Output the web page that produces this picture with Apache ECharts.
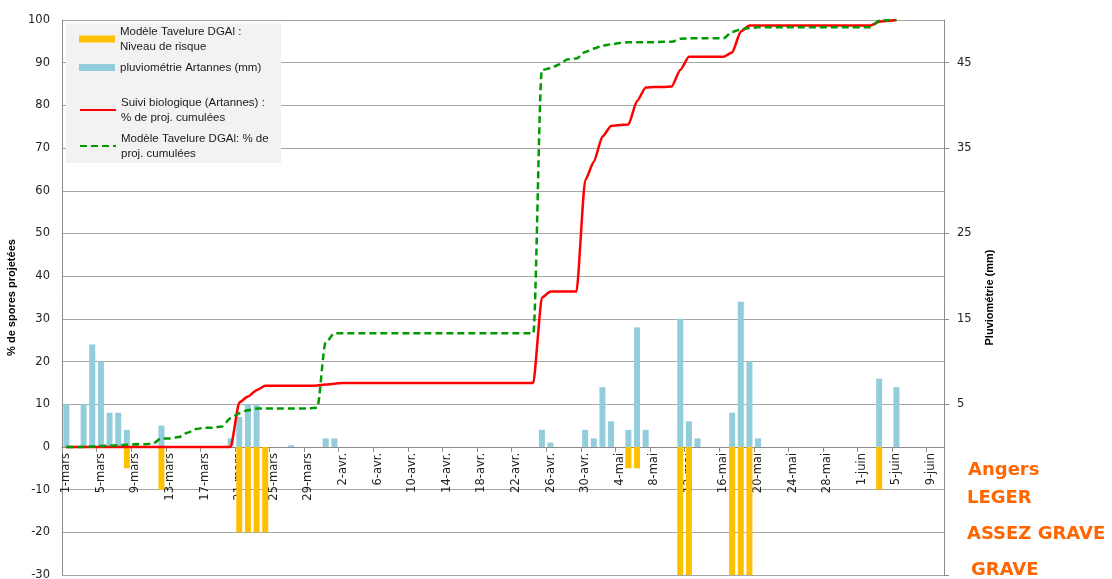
<!DOCTYPE html>
<html><head><meta charset="utf-8">
<script src="https://cdn.jsdelivr.net/npm/echarts@6/dist/echarts.min.js"></script>
<style>html,body{margin:0;padding:0;background:#fff}#c{width:1112px;height:579px}</style>
</head><body><div id="c"></div>
<script>
// ---- categories (1-mars .. 10-juin) ----
const monthNames = ['mars', 'avr.', 'mai', 'juin'];
const monthDays = [31, 30, 31, 10];
const categories = [];
monthNames.forEach((m, i) => { for (let d = 1; d <= monthDays[i]; d++) categories.push(d + '-' + m); });

// ---- series names ----
const riskName = 'Modèle Tavelure DGAl :\nNiveau de risque';
const rainName = 'pluviométrie Artannes (mm)';
const redName = 'Suivi biologique (Artannes) :\n% de proj. cumulées';
const greenName = 'Modèle Tavelure DGAl: % de\nproj. cumulées';

// ---- rainfall (mm), right axis ----
const rain = [
  5, 0, 5, 12, 10, 4, 4, 2, 0.5, 0,
  0, 2.5, 0, 0, 0, 0, 0, 0, 0, 1,
  3.5, 5, 5, 0, 0, 0, 0.2, 0, 0, 0,
  1, 1, 0, 0, 0, 0, 0, 0, 0, 0,
  0, 0, 0, 0, 0, 0, 0, 0, 0, 0,
  0, 0, 0, 0, 0, 2, 0.5, 0, 0, 0,
  2, 1, 7, 3, 0, 2, 14, 2, 0, 0,
  0, 15, 3, 1, 0, 0, 0, 4, 17, 10,
  1, 0, 0, 0, 0, 0, 0, 0, 0, 0,
  0, 0, 0, 0, 8, 0, 7, 0, 0, 0,
  0, 0
];

// ---- risk level (left axis, negative) ----
const risk = [
  0, 0, 0, 0, 0, 0, 0, -5, 0, 0,
  0, -10, 0, 0, 0, 0, 0, 0, 0, 0,
  -20, -20, -20, -20, 0, 0, 0, 0, 0, 0,
  0, 0, 0, 0, 0, 0, 0, 0, 0, 0,
  0, 0, 0, 0, 0, 0, 0, 0, 0, 0,
  0, 0, 0, 0, 0, 0, 0, 0, 0, 0,
  0, 0, 0, 0, 0, -5, -5, 0, 0, 0,
  0, -30, -30, 0, 0, 0, 0, -30, -30, -30,
  0, 0, 0, 0, 0, 0, 0, 0, 0, 0,
  0, 0, 0, 0, -10, 0, 0, 0, 0, 0,
  0, 0
];

// ---- % cumulative projections, biological follow-up ----
const red = [
  0, 0, 0, 0, 0, 0, 0, 0, 0, 0,
  0, 0, 0, 0, 0, 0, 0, 0, 0, 0,
  10.4, 11.8, 13.3, 14.3, 14.3, 14.3, 14.3, 14.3, 14.3, 14.4,
  14.6, 14.8, 15, 15, 15, 15, 15, 15, 15, 15,
  15, 15, 15, 15, 15, 15, 15, 15, 15, 15,
  15, 15, 15, 15, 15, 35, 36.4, 36.4, 36.4, 36.4,
  62.4, 66.8, 72.7, 75.2, 75.4, 75.5, 81, 84.2, 84.3, 84.3,
  84.4, 88.3, 91.4, 91.4, 91.4, 91.4, 91.4, 92.4, 97.3, 98.7,
  98.7, 98.7, 98.7, 98.7, 98.7, 98.7, 98.7, 98.7, 98.7, 98.7,
  98.7, 98.7, 98.7, 98.7, 99.6, 99.8, 100, null, null, null,
  null, null
];

// ---- % cumulative projections, DGAl model ----
const green = [
  0, 0, 0, 0.1, 0.2, 0.3, 0.4, 0.5, 0.6, 0.6,
  0.8, 2, 2, 2.3, 3.3, 4.2, 4.5, 4.5, 4.8, 6.7,
  7.9, 8.6, 9, 9, 9, 9, 9, 9, 9, 9.2,
  24.5, 26.6, 26.6, 26.6, 26.6, 26.6, 26.6, 26.6, 26.6, 26.6,
  26.6, 26.6, 26.6, 26.6, 26.6, 26.6, 26.6, 26.6, 26.6, 26.6,
  26.6, 26.6, 26.6, 26.6, 26.6, 88.3, 88.7, 89.6, 90.8, 91,
  92.5, 93.3, 94, 94.3, 94.6, 94.8, 94.8, 94.8, 94.8, 94.9,
  94.9, 95.6, 95.7, 95.7, 95.7, 95.7, 95.7, 97.2, 97.8, 98.1,
  98.3, 98.3, 98.3, 98.3, 98.3, 98.3, 98.3, 98.3, 98.3, 98.3,
  98.3, 98.3, 98.3, 98.3, 99.8, 100, 100, null, null, null,
  null, null
];

// ---- right axis tick labels ----
const rightLabels = [5, 15, 25, 35, 45];
const rightTicks = [-15, 5, 15, 25, 35, 45];

// ---- side annotation texts ----
const sideTexts = ['Angers', 'LEGER', 'ASSEZ GRAVE', 'GRAVE'];

const axisColor = '#8c8c8c';
const labelFont = 'DejaVu Sans';
const legendText = { fontSize: 11.5, fontFamily: 'Liberation Sans', color: '#1a1a1a', lineHeight: 15 };

const chart = echarts.init(document.getElementById('c'));
const gridTop = 20, gridBottomPx = 575;
const zeroOffset = -(gridBottomPx - gridTop) * 30 / 130; // x axis sits at value 0 of left axis
chart.setOption({
  animation: false,
  backgroundColor: '#fff',
  grid: { left: 62, right: 168, top: gridTop, bottom: 579 - gridBottomPx, containLabel: false, outerBoundsMode: 'none' },
  legend: [
    { data: [{ name: riskName, icon: 'rect' }, { name: rainName, icon: 'rect' }],
      orient: 'vertical', left: 79, top: 24, padding: 0, itemWidth: 36, itemHeight: 7, itemGap: 6,
      textStyle: legendText, z: 5, selectedMode: false },
    { data: [redName, greenName],
      orient: 'vertical', left: 79, top: 95, padding: 0, itemWidth: 36, itemHeight: 7, itemGap: 6,
      itemStyle: { opacity: 0 },
      textStyle: legendText, z: 5, selectedMode: false }
  ],
  xAxis: {
    type: 'category', data: categories, boundaryGap: true, position: 'bottom', offset: zeroOffset,
    axisLine: { onZero: false, lineStyle: { color: axisColor } },
    axisTick: { show: true, interval: 3, length: 5, lineStyle: { color: axisColor } },
    axisLabel: { interval: 3, rotate: 90, fontSize: 11.5, fontFamily: labelFont, color: '#222', margin: 6 },
    splitLine: { show: false }
  },
  yAxis: [
    { type: 'value', min: -30, max: 100, interval: 10, position: 'left',
      name: '% de spores projetées', nameLocation: 'middle', nameGap: 31, nameRotate: 90,
      nameTextStyle: { fontWeight: 'bold', fontSize: 11, fontFamily: 'Liberation Sans', color: '#000' },
      axisLine: { show: true, lineStyle: { color: axisColor } },
      axisTick: { show: false },
      axisLabel: { fontSize: 11.5, fontFamily: labelFont, color: '#222', margin: 12 },
      splitLine: { show: true, lineStyle: { color: '#a6a6a6' } } },
    { type: 'value', min: -15, max: 50, position: 'right',
      name: 'Pluviométrie (mm)', nameLocation: 'middle', nameGap: 40, nameRotate: 90,
      nameTextStyle: { fontWeight: 'bold', fontSize: 11, fontFamily: 'Liberation Sans', color: '#000' },
      axisLine: { show: true, lineStyle: { color: axisColor } },
      axisTick: { show: true, length: 5, customValues: rightTicks, lineStyle: { color: axisColor } },
      axisLabel: { customValues: rightLabels, fontSize: 11.5, fontFamily: labelFont, color: '#222', margin: 13 },
      splitLine: { show: false } }
  ],
  series: [
    { name: riskName, type: 'bar', yAxisIndex: 0, data: risk, barWidth: 6, barGap: '-100%',
      itemStyle: { color: '#ffc000' } },
    { name: rainName, type: 'bar', yAxisIndex: 1, data: rain, barWidth: 6, barGap: '-100%',
      itemStyle: { color: '#92cddc' } },
    { name: redName, type: 'line', yAxisIndex: 0, data: red, symbol: 'none', smooth: 0.2, smoothMonotone: 'x',
      lineStyle: { color: '#ff0000', width: 2.5 }, itemStyle: { color: '#ff0000' }, z: 4 },
    { name: greenName, type: 'line', yAxisIndex: 0, data: green, symbol: 'none', smooth: 0.3, smoothMonotone: 'x',
      lineStyle: { color: '#009a00', width: 2.5, type: [7, 4] }, itemStyle: { color: '#009a00' }, z: 5 }
  ],
  graphic: [
    { type: 'rect', left: 66, top: 23, shape: { width: 215, height: 140 }, style: { fill: '#f2f2f2' }, z: 3 },
    { type: 'text', x: 968, y: 470, style: { text: sideTexts[0], font: 'bold 18px "DejaVu Sans"', fill: '#ff6600', verticalAlign: 'middle' } },
    { type: 'text', x: 967, y: 498, style: { text: sideTexts[1], font: 'bold 18px "DejaVu Sans"', fill: '#ff6600', verticalAlign: 'middle' } },
    { type: 'text', x: 967, y: 534, style: { text: sideTexts[2], font: 'bold 18px "DejaVu Sans"', fill: '#ff6600', verticalAlign: 'middle' } },
    { type: 'text', x: 971, y: 570, style: { text: sideTexts[3], font: 'bold 18px "DejaVu Sans"', fill: '#ff6600', verticalAlign: 'middle' } }
  ]
});
</script>
</body></html>
